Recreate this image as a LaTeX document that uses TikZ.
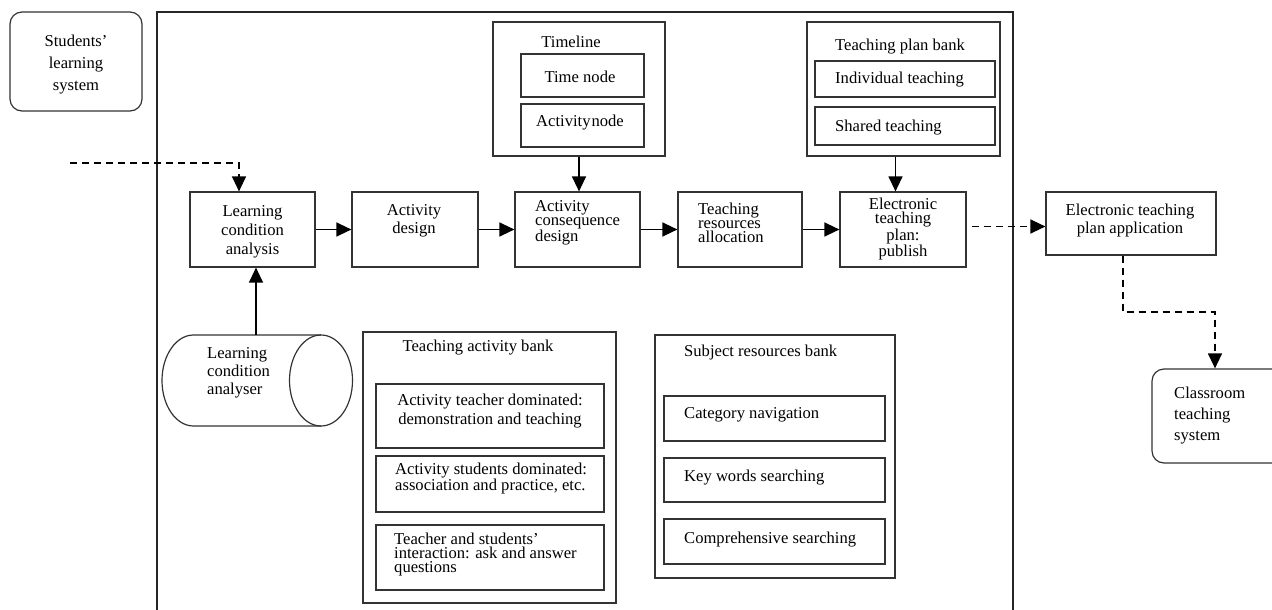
\documentclass[tikz,border=0pt]{standalone}
\usepackage{fontspec}
\setmainfont{Liberation Serif}
\usetikzlibrary{arrows.meta}
\tikzset{
  box/.style={draw=black!80, line width=1.2pt, inner sep=0pt},
  rbox/.style={box, rounded corners=12pt},
  arr/.style={line width=1.3pt, -{Triangle[length=15pt,width=14pt]}},
  darr/.style={arr, dash pattern=on 7pt off 5pt},
  txt/.style={inner sep=0pt, font=\fontsize{16.6}{19}\selectfont},
}
\newcommand{\bs}[1]{\fontsize{16.6}{#1}\selectfont}
\begin{document}
\begin{tikzpicture}[x=1pt,y=-1pt]
\useasboundingbox (0,0) rectangle (1272,610);
% big frame
\draw[black!85, line width=1.2pt] (157,612) -- (157,12) -- (1013,12) -- (1013,612);

% students' learning system
\node[rbox, minimum width=132pt, minimum height=99pt] (sls) at (76,61.5) {};
\node[txt, align=center, font=\bs{22}] (slst) at (76,65) {Students'\\learning\\system};

% main row
\node[box, minimum width=125pt, minimum height=75pt] (lcab) at (252.5,229.5) {};
\node[txt, align=center] (lcat) at (252.5,232) {Learning\\condition\\analysis};
\node[box, minimum width=126pt, minimum height=75pt] (adb) at (415,229.5) {};
\node[txt, align=center, font=\bs{18}] (adt) at (414,221) {Activity\\design};
\node[box, minimum width=125pt, minimum height=75pt] (acd) at (577.5,229.5) {};
\node[txt, align=left, anchor=west, font=\bs{14}] (acdt) at (535,223) {Activity\\consequence\\design};
\node[box, minimum width=124pt, minimum height=75pt] (tra) at (740,229.5) {};
\node[txt, align=left, anchor=west, font=\bs{14}] (trat) at (698,223) {Teaching\\resources\\allocation};
\node[box, minimum width=126pt, minimum height=75pt] (etp) at (903,229.5) {};
\node[txt, align=center, font=\bs{14}] (etpt) at (903,229) {Electronic\\teaching\\plan:\\publish};
\node[box, minimum width=170pt, minimum height=63pt] (etpa) at (1131,223.5) {};
\node[txt, align=center, font=\bs{18}] (etpat) at (1130,221) {Electronic teaching\\plan application};

% classroom teaching system
\node[rbox, minimum width=138pt, minimum height=94pt] (cts) at (1221,416) {};
\node[txt, align=left, anchor=west, font=\bs{21}] (ctst) at (1174,416) {Classroom\\teaching\\system};

% timeline
\node[box, minimum width=172pt, minimum height=134pt] (tl) at (579,89) {};
\node[txt] (tlt) at (571,42) {Timeline};
\node[box, minimum width=123pt, minimum height=43pt] (tn) at (582.5,75.5) {};
\node[txt] (tnt) at (580,77) {Time node};
\node[box, minimum width=123pt, minimum height=43pt] (an) at (582.5,125.5) {};
\node[txt] (ant) at (580,123) {Activity\kern1pt node};

% teaching plan bank
\node[box, minimum width=193pt, minimum height=134pt] (tpb) at (903.5,89) {};
\node[txt] (tpbt) at (900,47) {Teaching plan bank};
\node[box, minimum width=180pt, minimum height=36pt] (it) at (905,79) {};
\node[txt, anchor=west] (itt) at (835,80) {Individual teaching};
\node[box, minimum width=180pt, minimum height=38pt] (st) at (905,126) {};
\node[txt, anchor=west] (stt) at (835,128) {Shared teaching};

% learning condition analyser (cylinder)
\node[inner sep=0pt, minimum width=191pt, minimum height=91pt] (cyl) at (257.5,380.5) {};
\draw[black!80, line width=1.2pt] (321,335) -- (193.5,335)
  arc[start angle=90, end angle=270, x radius=31.5pt, y radius=45.5pt] -- (321,426);
\draw[black!80, line width=1.2pt] (321,380.5) ellipse [x radius=31.5pt, y radius=45.5pt];
\node[txt, align=left, anchor=west, font=\bs{18}] (cylt) at (207,373) {Learning\\condition\\analyser};

% teaching activity bank
\node[box, minimum width=253pt, minimum height=271pt] (tab) at (489.5,467.5) {};
\node[txt] (tabt) at (478,348) {Teaching activity bank};
\node[box, minimum width=228pt, minimum height=64pt] (ta1) at (490,416) {};
\node[txt, align=center] (ta1t) at (490,411.5) {Activity teacher dominated:\\demonstration and teaching};
\node[box, minimum width=228pt, minimum height=56pt] (ta2) at (490,484) {};
\node[txt, align=left, anchor=west, font=\bs{14.5}] (ta2t) at (395,478.5) {Activity students dominated:\\association and practice, etc.};
\node[box, minimum width=228pt, minimum height=65pt] (ta3) at (490,557.5) {};
\node[txt, align=left, anchor=west, font=\bs{14}] (ta3t) at (394,555) {Teacher and students'\\interaction: ask and answer\\questions};

% subject resources bank
\node[box, minimum width=240pt, minimum height=243pt] (srb) at (775,456.5) {};
\node[txt, anchor=west] (srbt) at (684,353) {Subject resources bank};
\node[box, minimum width=221pt, minimum height=45pt] (sr1) at (774.5,418.5) {};
\node[txt, anchor=west] (sr1t) at (684,415) {Category navigation};
\node[box, minimum width=221pt, minimum height=44pt] (sr2) at (774.5,480) {};
\node[txt, anchor=west] (sr2t) at (684,478) {Key words searching};
\node[box, minimum width=221pt, minimum height=45pt] (sr3) at (774.5,541.5) {};
\node[txt, anchor=west] (sr3t) at (684,540) {Comprehensive searching};

% connectors
\draw[arr] (lcab.east) -- (adb.west);
\draw[arr] (adb.east) -- (acd.west);
\draw[arr] (acd.east) -- (tra.west);
\draw[arr] (tra.east) -- (etp.west);
\draw[arr] (tl.south) -- (tl.south |- acd.north);
\draw[arr] ([xshift=-8pt]tpb.south) -- ([xshift=-8pt]tpb.south |- etp.north);
\draw[arr] ([xshift=-1.5pt]cyl.north) -- ([xshift=-1.5pt]cyl.north |- lcab.south);
\coordinate (src) at (70,163);
\draw[darr] (src) -| ([xshift=-13.5pt]lcab.north);
\coordinate (e1) at ([xshift=5pt]etp.east);
\coordinate (e2) at ([yshift=-3pt]etpa.west);
\draw[darr] (e1 |- e2) -- (e2);
\coordinate (bend) at (1215,312);
\draw[darr] ([xshift=-8pt]etpa.south) |- (bend) -- (bend |- cts.north);
\end{tikzpicture}
\end{document}
